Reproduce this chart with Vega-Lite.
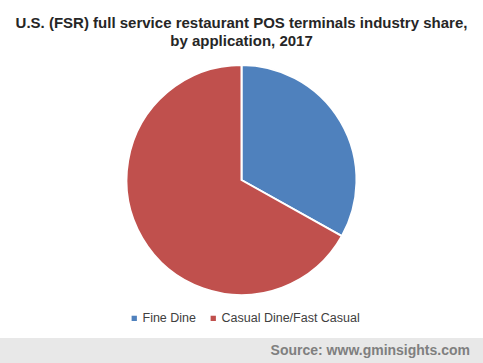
{
  "$schema": "https://vega.github.io/schema/vega-lite/v6.json",
  "padding": {"top": 16, "left": 0, "right": 0, "bottom": 0},
  "spacing": 13,
  "background": "white",
  "resolve": {"scale": {"color": "independent"}, "legend": {"color": "independent"}},
  "config": {
    "font": "Liberation Sans",
    "view": {"stroke": null},
    "title": {"fontSize": 15, "fontWeight": "bold", "color": "#262626", "lineHeight": 18, "offset": 11}
  },
  "vconcat": [
    {
      "width": 483,
      "height": 240,
      "title": {"text": ["U.S. (FSR) full service restaurant POS terminals industry share,", "by application, 2017"], "anchor": "middle"},
      "data": {"values": [
        {"application": "Fine Dine", "share": 33.1, "rank": 1},
        {"application": "Casual Dine/Fast Casual", "share": 66.9, "rank": 2}
      ]},
      "mark": {"type": "arc", "outerRadius": 115, "stroke": "white", "strokeWidth": 2},
      "encoding": {
        "theta": {"field": "share", "type": "quantitative", "stack": true},
        "order": {"field": "rank", "type": "quantitative"},
        "color": {
          "field": "application",
          "type": "nominal",
          "scale": {"domain": ["Fine Dine", "Casual Dine/Fast Casual"], "range": ["#4F81BD", "#C0504D"]},
          "legend": {
            "title": null,
            "orient": "none",
            "legendX": 128,
            "legendY": 252,
            "direction": "horizontal",
            "symbolType": "square",
            "symbolSize": 28,
            "symbolStrokeWidth": 0,
            "labelOffset": 2,
            "labelFontSize": 12.5,
            "labelColor": "#404040",
            "labelFont": "Liberation Sans",
            "columnPadding": 11
          }
        }
      }
    },
    {
      "width": 483,
      "height": 25,
      "view": {"fill": "#e8e8e8", "stroke": null},
      "data": {"values": [{"source": "Source: www.gminsights.com", "pos": 1}]},
      "mark": {"type": "text", "align": "right", "baseline": "middle", "fontSize": 14, "fontWeight": "bold", "color": "#7f7f7f", "dx": -13},
      "encoding": {
        "text": {"field": "source"},
        "x": {"field": "pos", "type": "quantitative", "scale": {"domain": [0, 1]}, "axis": null},
        "y": {"datum": 0.5, "type": "quantitative", "scale": {"domain": [0, 1]}, "axis": null}
      }
    }
  ]
}
